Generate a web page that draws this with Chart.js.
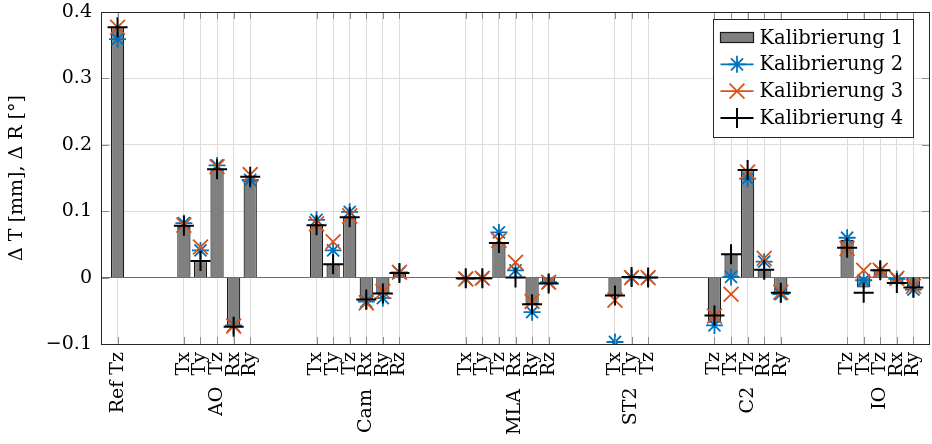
<!DOCTYPE html>
<html>
<head>
<meta charset="utf-8">
<script src="https://cdn.jsdelivr.net/npm/chart.js@4/dist/chart.umd.min.js"></script>
<style>
  html, body { margin: 0; padding: 0; background: #fff; }
  canvas { display: block; }
</style>
</head>
<body>
<canvas id="chart" width="932" height="444"></canvas>
<script>
// Parameter names per calibrated component, in plotting order
const categories = [
  'Ref Tz',
  'Tx', 'Ty', 'Tz', 'Rx', 'Ry',
  'Tx', 'Ty', 'Tz', 'Rx', 'Ry', 'Rz',
  'Tx', 'Ty', 'Tz', 'Rx', 'Ry', 'Rz',
  'Tx', 'Ty', 'Tz',
  'Tz', 'Tx', 'Tz', 'Rx', 'Ry',
  'Tz', 'Tx', 'Tz', 'Rx', 'Ry'
];
const groupNames = ['', 'AO', 'Cam', 'MLA', 'ST2', 'C2', 'IO'];
const groupSizes = [1, 5, 6, 6, 3, 5, 5];

// Deviations per calibration run (ΔT in mm, ΔR in degrees)
const kalibrierung1 = [
  0.377,
  0.078, 0.025, 0.163, -0.074, 0.146,
  0.080, 0.020, 0.091, -0.033, -0.024, 0.006,
  -0.002, -0.001, 0.052, -0.001, -0.040, -0.009,
  -0.027, 0.000, 0.000,
  -0.068, 0.035, 0.162, 0.012, -0.023,
  0.057, -0.015, 0.011, -0.008, -0.015
];
const kalibrierung2 = [
  0.359,
  0.082, 0.041, 0.169, -0.072, 0.147,
  0.087, 0.041, 0.099, -0.036, -0.031, 0.008,
  -0.002, -0.001, 0.068, 0.011, -0.052, -0.007,
  -0.097, 0.000, 0.000,
  -0.072, 0.001, 0.149, 0.024, -0.025,
  0.060, -0.004, 0.011, -0.002, -0.018
];
const kalibrierung3 = [
  0.377,
  0.079, 0.046, 0.167, -0.073, 0.155,
  0.081, 0.054, 0.093, -0.038, -0.021, 0.008,
  -0.002, -0.001, 0.056, 0.023, -0.036, -0.007,
  -0.034, 0.000, 0.000,
  -0.058, -0.025, 0.159, 0.029, -0.022,
  0.044, 0.011, 0.011, -0.001, -0.013
];
const kalibrierung4 = [
  0.377,
  0.078, 0.025, 0.163, -0.074, 0.152,
  0.079, 0.020, 0.091, -0.033, -0.024, 0.007,
  -0.001, -0.001, 0.052, 0.000, -0.040, -0.009,
  -0.027, 0.001, 0.000,
  -0.057, 0.035, 0.162, 0.012, -0.023,
  0.045, -0.023, 0.011, -0.008, -0.015
];
const yTicks = [-0.1, 0, 0.1, 0.2, 0.3, 0.4];
const seriesNames = ['Kalibrierung 1', 'Kalibrierung 2', 'Kalibrierung 3', 'Kalibrierung 4'];

// Lay the components out on a slot axis with empty slots between groups
const GAP = 3;
const slotLabels = [''], slotGroup = [''];
const s1 = [null], s2 = [null], s3 = [null], s4 = [null];
function pushBlank() {
  slotLabels.push(''); slotGroup.push('');
  s1.push(null); s2.push(null); s3.push(null); s4.push(null);
}
let k = 0;
groupSizes.forEach((n, g) => {
  if (g > 0) for (let j = 0; j < GAP; j++) pushBlank();
  for (let j = 0; j < n; j++, k++) {
    slotLabels.push(categories[k]);
    slotGroup.push(j === Math.floor(n / 2) ? groupNames[g] : '');
    s1.push(kalibrierung1[k]); s2.push(kalibrierung2[k]);
    s3.push(kalibrierung3[k]); s4.push(kalibrierung4[k]);
  }
});
pushBlank();

const BLUE = '#0072BD', ORANGE = '#D95319', BLACK = '#000000';
const FONT = 'DejaVu Serif';
Chart.defaults.font.family = FONT;
Chart.defaults.font.size = 19;
Chart.defaults.color = '#000';

function markerSet(label, data, style, color, radius, width, order) {
  return {
    type: 'line', label, data, order,
    showLine: false,
    pointStyle: style,
    pointRadius: radius,
    pointHoverRadius: radius,
    pointBorderColor: color,
    pointBackgroundColor: 'rgba(0,0,0,0)',
    pointBorderWidth: width,
    pointHoverBorderWidth: width
  };
}

function drawMarker(ctx, style, x, y, r) {
  ctx.beginPath();
  if (style === 'cross' || style === 'star') {
    ctx.moveTo(x - r, y); ctx.lineTo(x + r, y);
    ctx.moveTo(x, y - r); ctx.lineTo(x, y + r);
  }
  if (style === 'crossRot' || style === 'star') {
    const d = r * Math.SQRT1_2;
    ctx.moveTo(x - d, y - d); ctx.lineTo(x + d, y + d);
    ctx.moveTo(x - d, y + d); ctx.lineTo(x + d, y - d);
  }
  ctx.stroke();
}

// Axes frame, inward tick marks and the boxed legend
const framePlugin = {
  id: 'frame',
  afterDatasetsDraw(chart) {
    const {ctx, chartArea: a, scales: {x, y}} = chart;
    ctx.save();
    ctx.strokeStyle = '#8c8c8c';
    ctx.lineWidth = 1;
    ctx.beginPath();
    slotLabels.forEach((lab, i) => {
      if (!lab) return;
      const px = Math.round(x.getPixelForValue(i)) + 0.5;
      ctx.moveTo(px, a.bottom); ctx.lineTo(px, a.bottom - 7);
      ctx.moveTo(px, a.top); ctx.lineTo(px, a.top + 7);
    });
    yTicks.forEach(v => {
      const py = Math.round(y.getPixelForValue(v)) + 0.5;
      ctx.moveTo(a.left, py); ctx.lineTo(a.left + 8, py);
      ctx.moveTo(a.right, py); ctx.lineTo(a.right - 8, py);
    });
    ctx.stroke();
    ctx.strokeStyle = '#262626';
    ctx.strokeRect(Math.round(a.left) + 0.5, Math.round(a.top) + 0.5,
                   Math.round(a.right - a.left) - 1, Math.round(a.bottom - a.top));
    ctx.restore();
  },
  afterDraw(chart) {
    const {ctx, chartArea: a} = chart;
    const w = 200, h = 118;
    const left = Math.round(a.right - 17 - w) + 0.5;
    const top = Math.round(a.top + 7) + 0.5;
    ctx.save();
    ctx.fillStyle = '#fff';
    ctx.fillRect(left, top, w, h);
    ctx.strokeStyle = '#262626';
    ctx.lineWidth = 1;
    ctx.strokeRect(left, top, w, h);
    const styles = chart.data.datasets;
    ctx.font = '19.5px "' + FONT + '"';
    ctx.textBaseline = 'middle';
    ctx.textAlign = 'left';
    seriesNames.forEach((name, i) => {
      const cy = top + 18 + i * 26.8;
      const x0 = left + 7, x1 = left + 40, cx = (x0 + x1) / 2;
      const ds = styles[i];
      if (i === 0) {
        ctx.fillStyle = ds.backgroundColor;
        ctx.fillRect(x0, cy - 5, x1 - x0, 10);
        ctx.strokeStyle = ds.borderColor;
        ctx.lineWidth = 1.2;
        ctx.strokeRect(x0, cy - 5, x1 - x0, 10);
      } else {
        ctx.strokeStyle = ds.pointBorderColor;
        ctx.lineWidth = ds.pointBorderWidth;
        ctx.beginPath(); ctx.moveTo(x0, cy); ctx.lineTo(x1, cy); ctx.stroke();
        drawMarker(ctx, ds.pointStyle, cx, cy, ds.pointRadius);
      }
      ctx.fillStyle = '#000';
      ctx.fillText(name, left + 46, cy + 1);
    });
    ctx.restore();
  }
};

new Chart(document.getElementById('chart'), {
  type: 'bar',
  data: {
    labels: slotLabels,
    datasets: [
      {
        label: seriesNames[0], data: s1, order: 4,
        backgroundColor: '#808080', borderColor: '#1a1a1a', borderWidth: 1.2,
        barPercentage: 0.8, categoryPercentage: 1.0
      },
      markerSet(seriesNames[1], s2, 'star', BLUE, 8.5, 1.8, 3),
      markerSet(seriesNames[2], s3, 'crossRot', ORANGE, 10.5, 1.8, 2),
      markerSet(seriesNames[3], s4, 'cross', BLACK, 10, 2, 1)
    ]
  },
  options: {
    responsive: false,
    animation: false,
    devicePixelRatio: 1,
    layout: { autoPadding: false, padding: { top: 12, right: 2, left: 0, bottom: 0 } },
    plugins: { legend: { display: false }, tooltip: { enabled: false } },
    scales: {
      x: {
        type: 'category',
        offset: false,
        border: { display: false },
        grid: {
          offset: false,
          drawTicks: false,
          lineWidth: 1,
          color: c => (slotLabels[c.index] ? '#dcdcdc' : 'rgba(0,0,0,0)')
        },
        ticks: {
          autoSkip: false,
          minRotation: 90,
          maxRotation: 90,
          padding: 8,
          color: '#000',
          font: { size: 19 },
          callback: (v, i) => (slotGroup[i] ? slotGroup[i] + '  ' + slotLabels[i] : slotLabels[i])
        },
        afterFit: s => { s.height = 100; s.paddingLeft = 0; s.paddingRight = 0; }
      },
      y: {
        min: -0.1,
        max: 0.4,
        border: { display: false },
        afterBuildTicks: s => { s.ticks = yTicks.map(v => ({ value: v })); },
        grid: {
          drawTicks: false,
          lineWidth: 1,
          color: c => (c.tick && Math.abs(c.tick.value) < 1e-9 ? '#6e6e6e' : '#dcdcdc')
        },
        ticks: {
          padding: 9,
          color: '#000',
          font: { size: 19 },
          callback: v => {
            const r = Math.round(v * 10) / 10;
            if (r === 0) return '0';
            return (r < 0 ? '\u2212' : '') + Math.abs(r).toFixed(1);
          }
        },
        title: {
          display: true,
          text: 'Δ T [mm], Δ R [°]',
          color: '#000',
          font: { size: 19 },
          padding: { top: 6, bottom: 0 }
        },
        afterFit: s => { s.width = 101; s.paddingTop = 0; s.paddingBottom = 0; }
      }
    }
  },
  plugins: [framePlugin]
});
</script>
</body>
</html>
